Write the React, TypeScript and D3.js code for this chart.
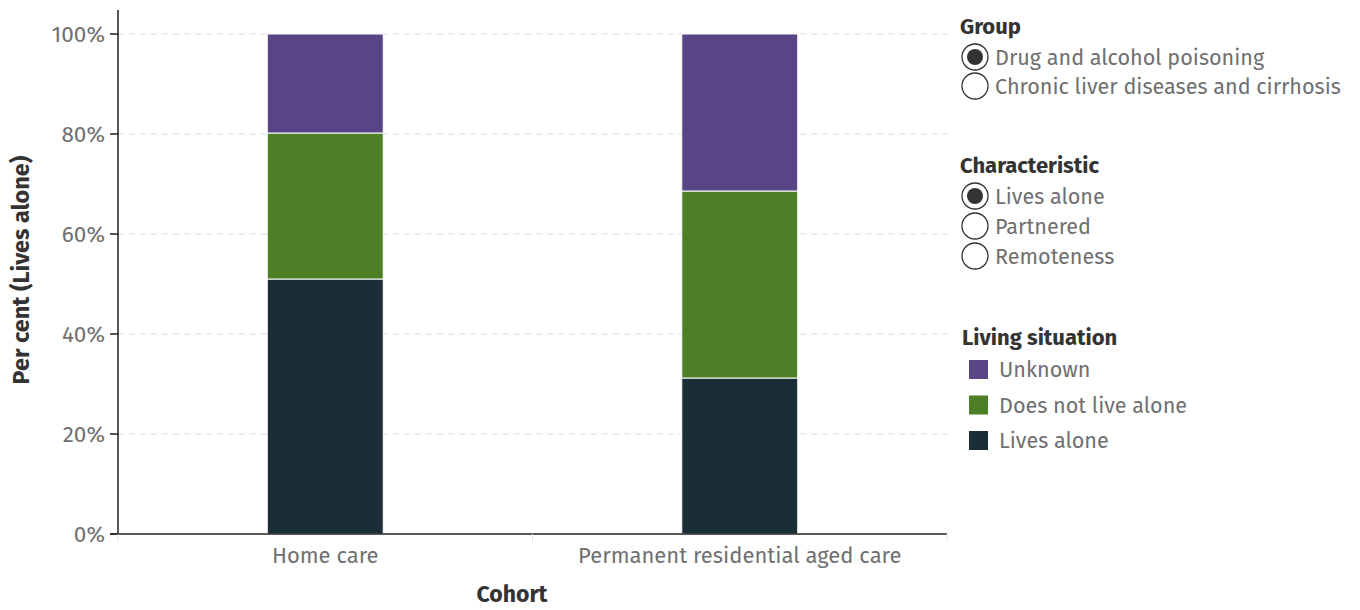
import React from "react";
import * as d3 from "d3";

const cohorts = ["Home care", "Permanent residential aged care"];
const livesAlone = [51.0, 31.2];
const doesNotLiveAlone = [29.2, 37.4];
const unknown = [19.8, 31.4];
const seriesNames = ["Lives alone", "Does not live alone", "Unknown"];
const seriesColors = ["#1b2e37", "#4d8026", "#574585"];
const yTicks = [0, 20, 40, 60, 80, 100];
const groupOptions = ["Drug and alcohol poisoning", "Chronic liver diseases and cirrhosis"];
const characteristicOptions = ["Lives alone", "Partnered", "Remoteness"];
const legendItems = ["Unknown", "Does not live alone", "Lives alone"];
const legendColors = ["#574585", "#4d8026", "#1b2e37"];

const FONT = "'Fira Sans', 'Noto Sans', 'Open Sans', sans-serif";

export default function App() {
  const W = 1360, H = 610;
  const left = 118, right = 947, top = 34, bottom = 534;
  const x = d3.scaleBand().domain(cohorts).range([left, right]).paddingInner(0).paddingOuter(0);
  const y = d3.scaleLinear().domain([0, 100]).range([bottom, top]);
  const barW = 116;

  const rows = cohorts.map((c, i) => ({
    cohort: c,
    "Lives alone": livesAlone[i],
    "Does not live alone": doesNotLiveAlone[i],
    Unknown: unknown[i],
  }));
  const stacked = d3.stack<any>().keys(seriesNames)(rows);

  return (
    <svg width={W} height={H} style={{ position: "absolute", left: 0, top: 0, fontFamily: FONT }}>
      <rect width={W} height={H} fill="#fff" />
      {yTicks.map((t) => (
        <g key={t}>
          {t > 0 && (
            <line x1={left} x2={right} y1={y(t)} y2={y(t)} stroke="#dcdcdc" strokeDasharray="6,5" strokeWidth={1} />
          )}
          <line x1={left - 8} x2={left} y1={y(t)} y2={y(t)} stroke="#222" strokeWidth={1.5} />
          <text x={left - 13} y={y(t)} dy="0.35em" textAnchor="end" fontSize={22.5} fill="#707070">
            {t}%
          </text>
        </g>
      ))}
      {stacked.map((s, si) =>
        s.map((d: any, i: number) => (
          <rect
            key={si + "-" + i}
            x={(x(cohorts[i]) as number) + x.bandwidth() / 2 - barW / 2}
            width={barW}
            y={y(d[1])}
            height={y(d[0]) - y(d[1])}
            fill={seriesColors[si]}
            stroke="#ffffff"
            strokeWidth={1}
          />
        ))
      )}
      <line x1={left} x2={left} y1={10} y2={bottom} stroke="#222" strokeWidth={1.5} />
      <line x1={left - 8} x2={right} y1={bottom} y2={bottom} stroke="#222" strokeWidth={1.5} />
      {[left, left + x.bandwidth(), right].map((v, i) => (
        <line key={i} x1={v} x2={v} y1={bottom} y2={bottom + 8} stroke="#e4e4e4" strokeWidth={1} />
      ))}
      {cohorts.map((c) => (
        <text key={c} x={(x(c) as number) + x.bandwidth() / 2} y={563} textAnchor="middle" fontSize={22} fill="#707070">
          {c}
        </text>
      ))}
      <text x={512} y={602} textAnchor="middle" fontSize={23} fontWeight="bold" fill="#333">
        Cohort
      </text>
      <text
        transform={`translate(29, 270) rotate(-90)`}
        textAnchor="middle"
        fontSize={23.5}
        fontWeight="bold"
        fill="#333"
      >
        Per cent (Lives alone)
      </text>

      <text x={960} y={34} fontSize={22} fontWeight="bold" fill="#333">Group</text>
      {groupOptions.map((g, i) => (
        <g key={g}>
          <circle cx={975} cy={57 + i * 29} r={13} fill="#fff" stroke="#333" strokeWidth={1.3} />
          {i === 0 && <circle cx={975} cy={57} r={8} fill="#333" />}
          <text x={995} y={57 + i * 29} dy="0.35em" fontSize={21.6} fill="#707070">{g}</text>
        </g>
      ))}
      <text x={960} y={173} fontSize={22} fontWeight="bold" fill="#333">Characteristic</text>
      {characteristicOptions.map((g, i) => (
        <g key={g}>
          <circle cx={975} cy={196 + i * 30} r={13} fill="#fff" stroke="#333" strokeWidth={1.3} />
          {i === 0 && <circle cx={975} cy={196} r={8} fill="#333" />}
          <text x={995} y={196 + i * 30} dy="0.35em" fontSize={21.6} fill="#707070">{g}</text>
        </g>
      ))}
      <text x={962} y={345} fontSize={22} fontWeight="bold" fill="#333">Living situation</text>
      {legendItems.map((g, i) => (
        <g key={g}>
          <rect x={969} y={360 + i * 35.5} width={19} height={19} fill={legendColors[i]} />
          <text x={999} y={369.5 + i * 35.5} dy="0.35em" fontSize={21.6} fill="#707070">{g}</text>
        </g>
      ))}
    </svg>
  );
}
